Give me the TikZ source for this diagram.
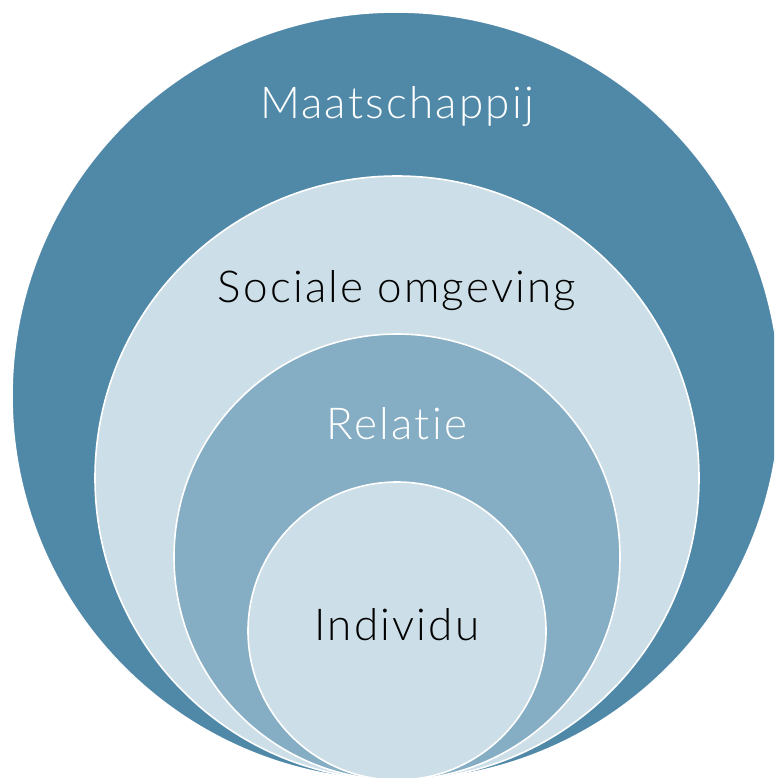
\documentclass[tikz,border=0pt]{standalone}
\usepackage{fontspec}
\setmainfont{Lato}[UprightFont={* Light}, Ligatures={NoCommon}, LetterSpace=5]
\definecolor{outerblue}{HTML}{5089A8}
\definecolor{paleblue}{HTML}{CCDEE7}
\definecolor{midblue}{HTML}{85ADC3}
\begin{document}
\begin{tikzpicture}[x=1pt,y=-1pt,
  ring/.style={circle, draw=white, line width=1.6pt, inner sep=0pt},
  lbl/.style={anchor=base, inner sep=0pt, font=\fontsize{44}{50}\selectfont}]
\useasboundingbox (0,0) rectangle (774,778);
\begin{scope}
\clip (0,0) rectangle (774,778);
\node[ring, fill=outerblue, minimum size=768pt] (maat) at (396,396) {};
\node[ring, fill=paleblue, minimum size=604pt] (soc) at (397,478) {};
\node[ring, fill=midblue, minimum size=446pt] (rel) at (397,557) {};
\node[ring, fill=paleblue, minimum size=298pt] (ind) at (397,631) {};
\end{scope}
\node[lbl, text=white] (tmaat) at (397,119) {Maatschappij};
\node[lbl, text=black] (tsoc) at (397,302) {Sociale omgeving};
\node[lbl, text=white] (trel) at (397,439) {Relatie};
\node[lbl, text=black] (tind) at (397,640) {Individu};
\end{tikzpicture}
\end{document}
